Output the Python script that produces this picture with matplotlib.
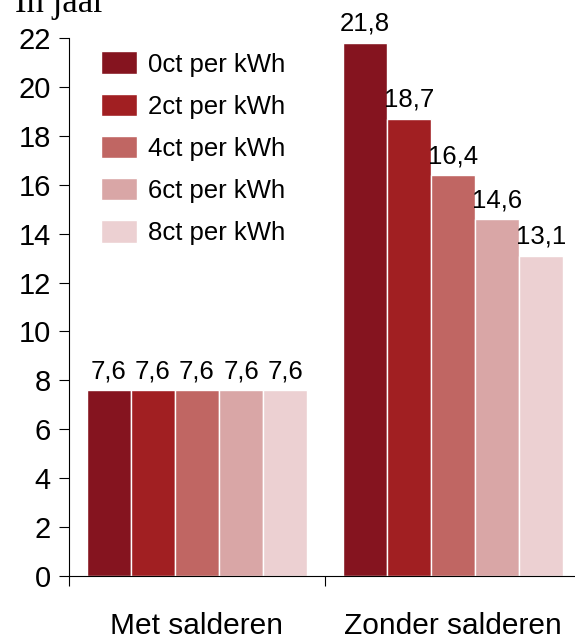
import matplotlib
matplotlib.use('Agg')
import matplotlib.pyplot as plt
import numpy as np

#%% data
categories = ['Met salderen', 'Zonder salderen']
series_names = ['0ct per kWh', '2ct per kWh', '4ct per kWh', '6ct per kWh', '8ct per kWh']
met = [7.6, 7.6, 7.6, 7.6, 7.6]
zonder = [21.8, 18.7, 16.4, 14.6, 13.1]
yticks = [0, 2, 4, 6, 8, 10, 12, 14, 16, 18, 20, 22]
ylabel = 'In jaar'

kleuren = ['#85141F', '#A11F22', '#C06663', '#D9A6A6', '#ECD0D2']

#%% figure
plt.rcParams['font.family'] = ['Liberation Sans', 'DejaVu Sans']
fig = plt.figure(figsize=(5.75, 6.36), dpi=100)
ax = fig.add_axes([69/575, 60/636, 512/575, 538/636])

bw = 0.172
x0 = np.array([0.5, 1.5])
for i, naam in enumerate(series_names):
    xs = x0 + (i - 2) * bw
    vals = [met[i], zonder[i]]
    ax.bar(xs, vals, width=bw, color=kleuren[i], edgecolor='white', linewidth=1, label=naam)
    for xx, v in zip(xs, vals):
        ax.annotate('{:.1f}'.format(v).replace('.', ','), (xx, v), xytext=(0, 5),
                    textcoords='offset points', ha='center', va='bottom', fontsize=18.5)

ax.set_xlim(0, 2)
ax.set_ylim(0, 22)
ax.set_yticks(yticks)
ax.tick_params(axis='y', labelsize=21, length=7, direction='out', pad=6)
ax.set_xticks([0, 1, 2])
ax.set_xticklabels([])
ax.tick_params(axis='x', length=7, direction='out')
for s in ['top', 'right']:
    ax.spines[s].set_visible(False)

# categorie labels onderaan
for xx, c in zip(x0, categories):
    xf = (69 + xx * 256) / 575
    fig.text(xf, 1.5/636, c, ha='center', va='baseline', fontsize=21.5)

ax.legend(loc='upper left', bbox_to_anchor=(0.063, 0.975), frameon=False, fontsize=18.5,
          handlelength=1.38, handleheight=0.98, handletextpad=0.42, labelspacing=0.66,
          borderpad=0, borderaxespad=0)

fig.text(15/575, (636-12)/636, ylabel, family=['Liberation Serif', 'DejaVu Serif'],
         fontsize=25, ha='left', va='baseline')

fig.savefig('out.png', dpi=100)
